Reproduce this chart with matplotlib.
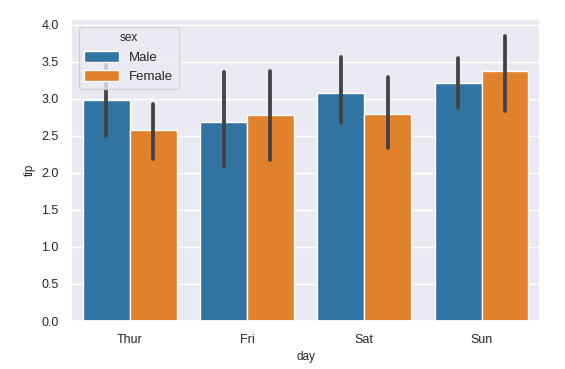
import matplotlib
matplotlib.use("Agg")
import matplotlib.pyplot as plt
import seaborn as sns
import numpy as np

days = ["Thur", "Fri", "Sat", "Sun"]
sexes = ["Male", "Female"]
male_mean = [2.98, 2.69, 3.08, 3.22]
female_mean = [2.58, 2.78, 2.80, 3.37]
male_lo = [2.50, 2.08, 2.68, 2.88]
male_hi = [3.50, 3.36, 3.57, 3.55]
female_lo = [2.19, 2.18, 2.34, 2.84]
female_hi = [2.93, 3.38, 3.29, 3.85]
colors = ["#3274a1", "#e1812c"]

sns.set_theme(style="darkgrid")
plt.rcParams["font.family"] = ["Liberation Sans", "DejaVu Sans"]

fig = plt.figure(figsize=(5.65, 3.69), dpi=100)
ax = fig.add_axes([0.126, 0.130, 0.830, 0.819])

x = np.arange(len(days))
w = 0.4
means = [male_mean, female_mean]
los = [male_lo, female_lo]
his = [male_hi, female_hi]
for i, s in enumerate(sexes):
    xs = x - 0.2 + i * w
    ax.bar(xs, means[i], width=w, color=colors[i], edgecolor="white", linewidth=1, label=s, zorder=2)
    for xx, lo, hi in zip(xs, los[i], his[i]):
        ax.plot([xx, xx], [lo, hi], color="#424242", lw=2.7, solid_capstyle="round", zorder=3)

ax.grid(False, axis="x")
ax.set_xticks(x)
ax.set_xticklabels(days)
ax.set_xlim(-0.5, 3.5)
ax.set_ylim(0, 4.08)
ax.set_yticks(np.arange(0, 4.01, 0.5))
ax.tick_params(labelsize=9, pad=3)
ax.set_xlabel("day", fontsize=8.5)
ax.set_ylabel("tip", fontsize=8.5)
leg = ax.legend(title="sex", loc="upper left", fontsize=9.5, title_fontsize=8.5,
                handlelength=2.6, handleheight=0.9, borderaxespad=0.6)

fig.savefig("out.png", dpi=100)
